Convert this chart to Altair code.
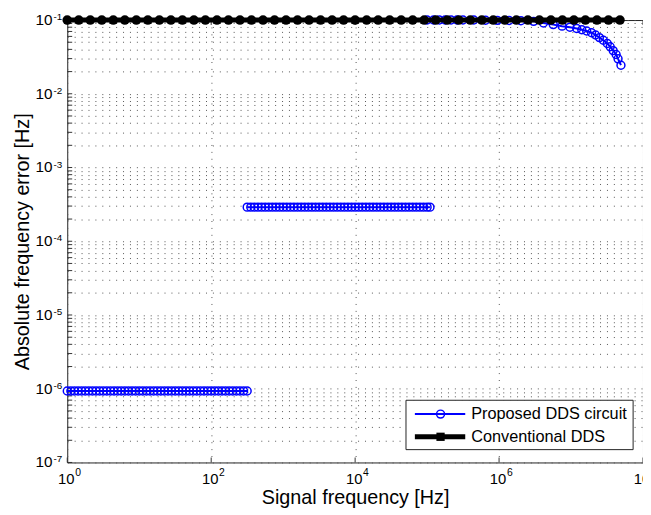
import altair as alt
import pandas as pd

# ---- data ----
# Conventional DDS: marker positions (log10 of frequency) and error
conv_log_f = [0.00, 0.16, 0.32, 0.48, 0.64, 0.80, 0.96, 1.12, 1.28, 1.44,
              1.60, 1.76, 1.92, 2.08, 2.24, 2.40, 2.56, 2.72, 2.88, 3.04,
              3.20, 3.36, 3.52, 3.68, 3.84, 4.00, 4.16, 4.32, 4.48, 4.64,
              4.80, 4.96, 5.12, 5.28, 5.44, 5.60, 5.76, 5.92, 6.08, 6.24,
              6.40, 6.56, 6.72, 6.88, 7.04, 7.20, 7.36, 7.52, 7.68]
conv_err_value = 0.1

# Proposed DDS circuit, segment 1 (low band)
seg1_log_f = [0.00, 0.05, 0.10, 0.15, 0.20, 0.25, 0.30, 0.35, 0.40, 0.45,
              0.50, 0.55, 0.60, 0.65, 0.70, 0.75, 0.80, 0.85, 0.90, 0.95,
              1.00, 1.05, 1.10, 1.15, 1.20, 1.25, 1.30, 1.35, 1.40, 1.45,
              1.50, 1.55, 1.60, 1.65, 1.70, 1.75, 1.80, 1.85, 1.90, 1.95,
              2.00, 2.05, 2.10, 2.15, 2.20, 2.25, 2.30, 2.35, 2.40, 2.45, 2.50]
seg1_err_value = 9.3e-7

# segment 2 (middle band)
seg2_log_f = [2.50, 2.55, 2.60, 2.65, 2.70, 2.75, 2.80, 2.85, 2.90, 2.95,
              3.00, 3.05, 3.10, 3.15, 3.20, 3.25, 3.30, 3.35, 3.40, 3.45,
              3.50, 3.55, 3.60, 3.65, 3.70, 3.75, 3.80, 3.85, 3.90, 3.95,
              4.00, 4.05, 4.10, 4.15, 4.20, 4.25, 4.30, 4.35, 4.40, 4.45,
              4.50, 4.55, 4.60, 4.65, 4.70, 4.75, 4.80, 4.85, 4.90, 4.95,
              5.00, 5.04]
seg2_err_value = 2.9e-4

# segment 3 (high band)
seg3_f = [1.0e5, 1.23e5, 1.48e5, 1.78e5, 2.15e5, 2.6e5, 3.15e5, 4.45e5,
          6.49e5, 9.46e5, 1.38e6, 2.01e6, 3.02e6, 4.14e6, 5.66e6, 7.51e6,
          9.66e6, 1.20e7, 1.41e7, 1.65e7, 1.93e7, 2.19e7, 2.48e7, 2.81e7,
          3.19e7, 3.50e7, 3.85e7, 4.23e7, 4.50e7, 4.94e7]
seg3_err = [0.1, 0.1, 0.1, 0.1, 0.1, 0.1, 0.1, 0.1,
            0.0995, 0.099, 0.0985, 0.098, 0.096, 0.0913, 0.0867, 0.0826,
            0.080, 0.0767, 0.0738, 0.0709, 0.0673, 0.0627, 0.0578, 0.0532,
            0.0481, 0.0435, 0.0385, 0.0341, 0.0298, 0.0244]

legend_labels = ["Proposed DDS circuit", "Conventional DDS"]

# tick labels (10 with a superscript exponent)
x_tick_values = [1, 1e2, 1e4, 1e6, 1e8]
x_tick_exponents = ["0", "2", "4", "6", "8"]
y_tick_values = [1e-7, 1e-6, 1e-5, 1e-4, 1e-3, 1e-2, 1e-1]
y_tick_exponents = ["-7", "-6", "-5", "-4", "-3", "-2", "-1"]

# ---- tables ----
rows = []
for e in seg1_log_f:
    rows.append({"f": 10 ** e, "err": seg1_err_value, "seg": "s1"})
for e in seg2_log_f:
    rows.append({"f": 10 ** e, "err": seg2_err_value, "seg": "s2"})
for f, v in zip(seg3_f, seg3_err):
    rows.append({"f": f, "err": v, "seg": "s3"})
proposed = pd.DataFrame(rows)
conv = pd.DataFrame({"f": [10 ** e for e in conv_log_f],
                     "err": [conv_err_value] * len(conv_log_f)})
xlab = pd.DataFrame({"f": x_tick_values, "exp": x_tick_exponents})
ylab = pd.DataFrame({"err": y_tick_values, "exp": y_tick_exponents})

# grid / minor tick positions on the log y axis (decades and 2..9 subdivisions)
y_grid_values = [m * 10.0 ** d for d in range(-7, -1) for m in range(1, 10)] + [0.1]
ygrid = pd.DataFrame({"err": y_grid_values})

FONT = "Liberation Sans"
W, H = 583, 448

xscale = alt.Scale(type="log", domain=[1, 1e8], nice=False)
yscale = alt.Scale(type="log", domain=[1e-7, 1e-1], nice=False)

xaxis = alt.Axis(values=x_tick_values, title="Signal frequency [Hz]",
                 labels=False, titlePadding=26)
yaxis = alt.Axis(values=y_grid_values, title="Absolute frequency error [Hz]",
                 labels=False, titlePadding=35)

X = alt.X("f:Q", scale=xscale, axis=xaxis)
Y = alt.Y("err:Q", scale=yscale, axis=yaxis)

# inward tick marks (MATLAB style)
x_ticks = alt.Chart(xlab).mark_rule(color="#333", strokeWidth=1).encode(
    x=X, y=alt.value(H - 5), y2=alt.value(H))
x_ticks_top = alt.Chart(xlab).mark_rule(color="#333", strokeWidth=1).encode(
    x=X, y=alt.value(0), y2=alt.value(5))
y_ticks = alt.Chart(ygrid).mark_rule(color="#333", strokeWidth=1).encode(
    y=Y, x=alt.value(0), x2=alt.value(5))

prop_line = alt.Chart(proposed).mark_line(color="#0000ff", strokeWidth=2).encode(
    x=X, y=Y, detail="seg:N")
prop_pts = alt.Chart(proposed).mark_point(
    shape="circle", filled=False, color="#0000ff", size=64, strokeWidth=1.5, opacity=1
).encode(x=X, y=Y)
conv_line = alt.Chart(conv).mark_line(color="black", strokeWidth=5).encode(x=X, y=Y)
conv_pts = alt.Chart(conv).mark_point(
    shape="circle", filled=True, color="black", size=95, opacity=1
).encode(x=X, y=Y)

# ---- tick labels: "10" plus superscript exponent ----
x_base = alt.Chart(xlab).mark_text(text="10", fontSize=15, font=FONT, color="black",
                                   align="center", baseline="alphabetic", dx=-1).encode(
    x=X, y=alt.value(H + 22))
x_exp = alt.Chart(xlab).mark_text(fontSize=10.5, font=FONT, color="black",
                                  align="left", baseline="alphabetic", dx=8).encode(
    x=X, y=alt.value(H + 14), text="exp:N")
y_base = alt.Chart(ylab).mark_text(text="10", fontSize=15.5, font=FONT, color="black",
                                   align="right", baseline="alphabetic", dy=5).encode(
    x=alt.value(-15), y=Y)
y_exp = alt.Chart(ylab).mark_text(fontSize=10, font=FONT, color="black",
                                  align="left", baseline="alphabetic", dy=0).encode(
    x=alt.value(-14), y=Y, text="exp:N")

# ---- legend (decoration) ----
dummy = pd.DataFrame({"a": [0]})
lg_box = alt.Chart(dummy).mark_rect(fill="white", stroke="#222", strokeWidth=1).encode(
    x=alt.value(343), x2=alt.value(573), y=alt.value(385), y2=alt.value(435))
lg_rule1 = alt.Chart(dummy).mark_rule(color="#0000ff", strokeWidth=2).encode(
    x=alt.value(352), x2=alt.value(403), y=alt.value(399))
lg_pt1 = alt.Chart(dummy).mark_point(shape="circle", filled=False, color="#0000ff",
                                     size=64, strokeWidth=1.5, opacity=1).encode(
    x=alt.value(378), y=alt.value(399))
lg_txt1 = alt.Chart(dummy).mark_text(align="left", baseline="middle", fontSize=16.5,
                                     font=FONT, color="black").encode(
    x=alt.value(409), y=alt.value(399), text=alt.value(legend_labels[0]))
lg_rule2 = alt.Chart(dummy).mark_rule(color="black", strokeWidth=5).encode(
    x=alt.value(352), x2=alt.value(403), y=alt.value(422))
lg_pt2 = alt.Chart(dummy).mark_point(shape="square", filled=True, color="black",
                                     size=70, opacity=1).encode(
    x=alt.value(378), y=alt.value(422))
lg_txt2 = alt.Chart(dummy).mark_text(align="left", baseline="middle", fontSize=16.5,
                                     font=FONT, color="black").encode(
    x=alt.value(409), y=alt.value(422), text=alt.value(legend_labels[1]))

chart = alt.layer(
    x_ticks, x_ticks_top, y_ticks,
    prop_line, prop_pts, conv_line, conv_pts,
    x_base, x_exp, y_base, y_exp,
    lg_box, lg_rule1, lg_pt1, lg_txt1, lg_rule2, lg_pt2, lg_txt2,
).properties(
    width=W, height=H,
    autosize=alt.AutoSizeParams(type="none"),
    padding={"left": 60, "top": 9, "right": 0, "bottom": 50},
).configure_view(
    stroke="#222", strokeWidth=1
).configure_axis(
    grid=True, gridDash=[1, 6], gridColor="#555", gridWidth=1,
    domain=False, ticks=False,
    titleFont=FONT, titleFontSize=20, titleFontWeight="normal", titleColor="black",
)

chart.save("out.html", embed_options={"renderer": "svg", "actions": False})
